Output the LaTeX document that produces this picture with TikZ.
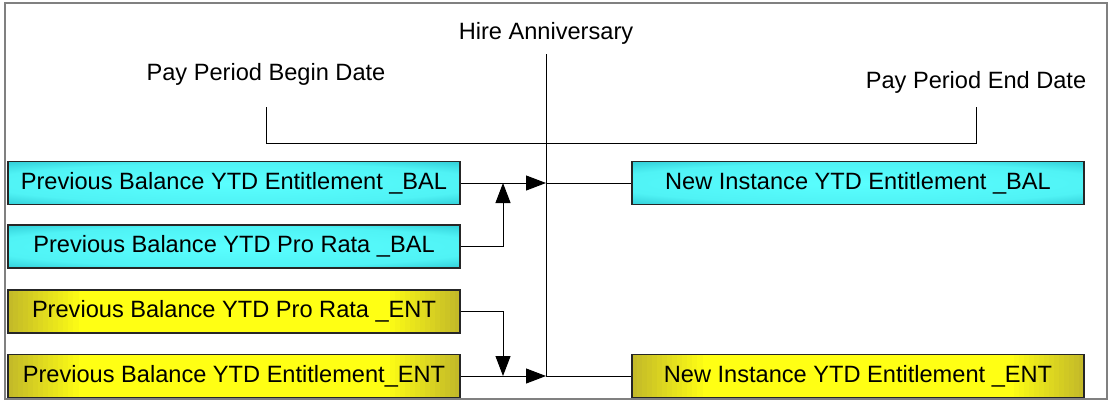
\documentclass[tikz,border=0pt]{standalone}
\usepackage{fontspec}
\setmainfont{Liberation Sans}
\usetikzlibrary{arrows.meta}

\definecolor{tealc}{RGB}{22,172,188}
\definecolor{glowc}{RGB}{90,255,255}
\definecolor{olivec}{RGB}{196,186,40}
\definecolor{yellowc}{RGB}{255,255,20}
\definecolor{framec}{RGB}{128,128,128}

% soft elliptic glow for the balance boxes
\pgfdeclareradialshading{balglow}{\pgfpoint{0bp}{0bp}}{%
  color(0bp)=(glowc); color(14bp)=(glowc!85!tealc);
  color(25bp)=(tealc); color(50bp)=(tealc)}

\tikzset{
  boxbase/.style={draw=black!85, line width=1.5pt, minimum width=452pt,
    minimum height=43pt, inner sep=0pt, text=black,
    font=\fontsize{23.6}{28}\selectfont},
  balbox/.style={boxbase, fill=tealc,
    path picture={\shade[shading=balglow]
      (path picture bounding box.center) ellipse [x radius=445pt, y radius=36pt];}},
  % bright yellow body, olive vertical stripes fading in from both ends
  entbox/.style={boxbase, fill=yellowc,
    path picture={
      \foreach \i in {0,...,13}{
        \pgfmathtruncatemacro{\stripmix}{100-7*\i}
        \fill[olivec!\stripmix!yellowc]
          ([xshift=\i*5pt]path picture bounding box.south west) rectangle
          ([xshift=\i*5pt+5.5pt]path picture bounding box.north west);
        \fill[olivec!\stripmix!yellowc]
          ([xshift=-\i*5pt]path picture bounding box.south east) rectangle
          ([xshift=-\i*5pt-5.5pt]path picture bounding box.north east);
      }}},
  lbl/.style={font=\fontsize{23.6}{28}\selectfont, inner sep=0pt, anchor=base},
  wire/.style={draw=black, line width=1pt},
  flow/.style={wire, -{Triangle[length=20pt,width=15pt]}}
}

\begin{document}
\begin{tikzpicture}[x=1pt,y=1pt]
  \useasboundingbox (0,0) rectangle (1110,-402);
  % outer frame
  \draw[framec, line width=2pt] (5,-3) rectangle (1107,-399);

  % time-line labels
  \node[lbl] (hire)  at (546,-39) {Hire Anniversary};
  \node[lbl] (begin) at (266,-80) {Pay Period Begin Date};
  \node[lbl] (end)   at (976,-88) {Pay Period End Date};

  % pay-period bracket and anniversary marker
  \coordinate (bl) at (266,-107);
  \coordinate (br) at (976,-107);
  \coordinate (htop) at (546,-54);
  \draw[wire] (bl) -- (266,-143) -- (976,-143) -- (br);

  % balance boxes
  \node[balbox] (pbent) at (234,-183) {Previous Balance YTD Entitlement \_BAL};
  \node[balbox] (pbpro) at (234,-246.5) {Previous Balance YTD Pro Rata \_BAL};
  \node[balbox] (nbal)  at (858,-183) {New Instance YTD Entitlement \_BAL};

  % entitlement boxes
  \node[entbox] (pepro) at (234,-311.5) {Previous Balance YTD Pro Rata \_ENT};
  \node[entbox] (peent) at (234,-376) {Previous Balance YTD Entitlement\_ENT};
  \node[entbox] (nent)  at (858,-376) {New Instance YTD Entitlement \_ENT};

  % junction points on the anniversary line
  \coordinate (jb) at (546,-183);
  \coordinate (je) at (546,-376);
  \coordinate (mb) at (503,-183);
  \coordinate (me) at (503,-376);

  \draw[wire] (htop) -- (je);

  % balance flow
  \draw[flow] (pbent.east) -- (jb);
  \draw[flow] (pbpro.east) -| (mb);
  \draw[wire] (jb) -- (nbal.west);

  % entitlement flow
  \draw[flow] (peent.east) -- (je);
  \draw[flow] (pepro.east) -| (me);
  \draw[wire] (je) -- (nent.west);
\end{tikzpicture}
\end{document}
